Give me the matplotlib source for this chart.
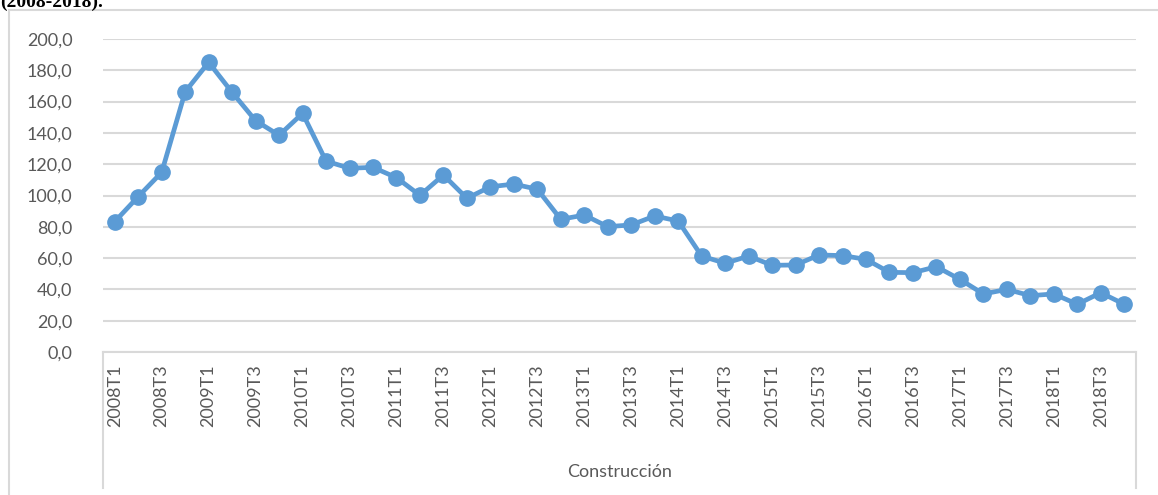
import numpy as np
import matplotlib.pyplot as plt
from matplotlib.patches import Rectangle
from matplotlib.lines import Line2D

years = list(range(2008, 2019))
quarters = ['T1', 'T2', 'T3', 'T4']
labels = [str(y) + q for y in years for q in quarters]
values = [83.3, 99.3, 114.8, 166.3, 185.1, 165.9, 147.8, 138.5, 152.5, 122.0,
          117.4, 118.0, 111.4, 100.1, 113.1, 98.2, 105.6, 107.3, 104.0, 84.8,
          87.5, 80.1, 81.2, 86.9, 83.7, 61.3, 56.7, 61.3, 55.4, 55.6,
          62.0, 61.6, 59.2, 50.9, 50.7, 54.5, 46.4, 37.1, 40.0, 36.0,
          37.1, 30.5, 37.9, 30.5]

W, H = 1158, 495
fig = plt.figure(figsize=(W / 100, H / 100), dpi=100)

# outer chart border
fig.patches.append(Rectangle((9 / W, -0.05), 1.1, 1 - 10 / H + 0.05, transform=fig.transFigure,
                             fill=False, edgecolor='#d9d9d9', linewidth=1.5))

# caption from the page above (only its lower part shows in the reference)
fig.text(0.0, 1 - 7 / H, '(2008-2018).', fontsize=14, family='Liberation Serif',
         weight='bold', color='black', ha='left', va='baseline')

left, right = 103 / W, 1136 / W
bottom, top = 1 - 352 / H, 1 - 39 / H
ax = fig.add_axes([left, bottom, right - left, top - bottom])

x = np.arange(len(values))
ax.plot(x, values, color='#5b9bd5', linewidth=3.4, marker='o', markersize=11,
        solid_capstyle='round', solid_joinstyle='round', zorder=3)

ax.set_xlim(-0.5, len(values) - 0.5)
ax.set_ylim(0, 200)
ax.set_yticks(np.arange(0, 201, 20))
ax.set_yticklabels(['%d,0' % v for v in np.arange(0, 201, 20)])
ax.yaxis.grid(True, color='#d9d9d9', linewidth=1.5)
ax.set_axisbelow(True)
for s in ['top', 'right', 'left']:
    ax.spines[s].set_visible(False)
ax.spines['bottom'].set_color('#d9d9d9')
ax.spines['bottom'].set_linewidth(1.5)
ax.tick_params(axis='y', length=0, pad=22, labelsize=13, labelcolor='#595959')
ax.tick_params(axis='x', length=0, pad=9, labelsize=13, labelcolor='#595959')
for t in ax.get_yticklabels():
    t.set_family('Lato')

ax.set_xticks(x[::2])
ax.set_xticklabels(labels[::2], rotation=90, family='Lato')

# category box lines below the axis
for xx in [left, right]:
    fig.add_artist(Line2D([xx, xx], [bottom, 1 - 488 / H], transform=fig.transFigure,
                          color='#d9d9d9', linewidth=1.5))

fig.text((left + right) / 2, 1 - 472 / H, 'Construcción', ha='center', va='center',
         fontsize=13, color='#595959', family='Lato')

fig.savefig('out.png', dpi=100)
